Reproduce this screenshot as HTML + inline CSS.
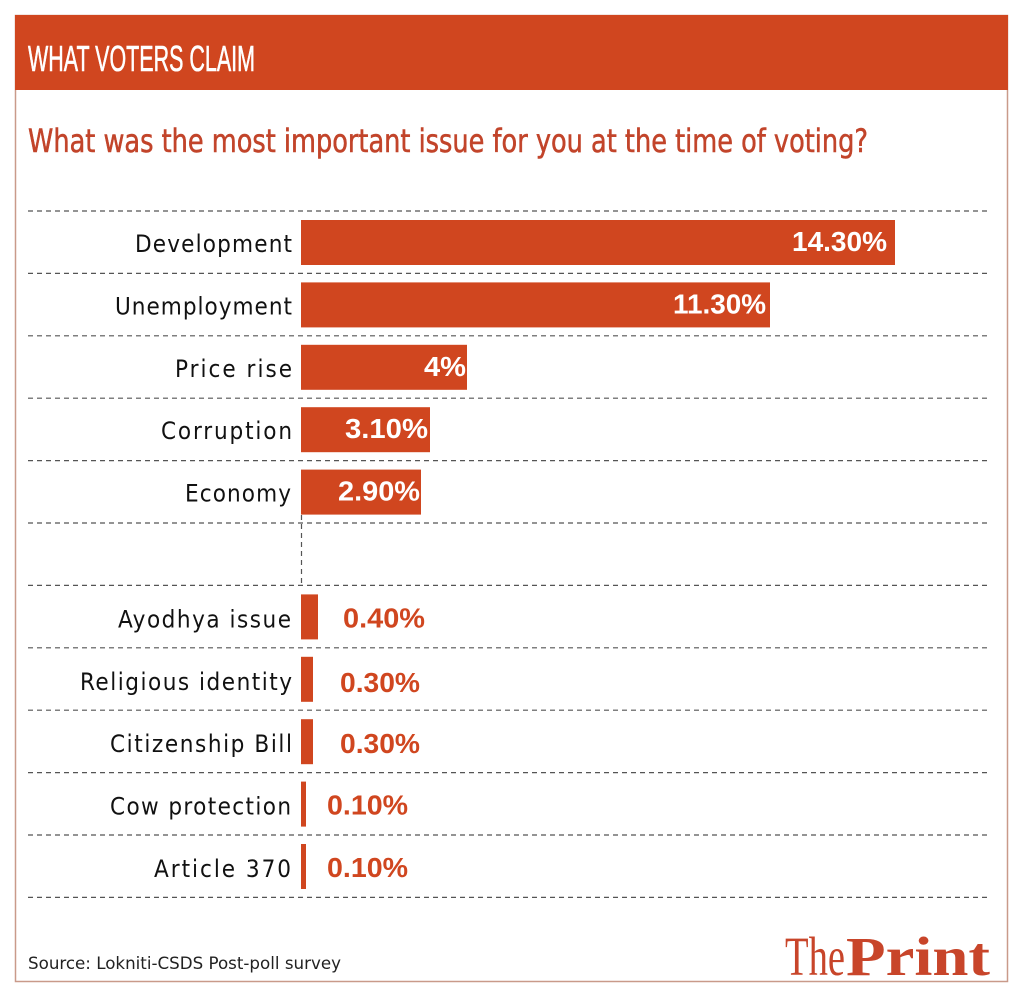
<!DOCTYPE html>
<html><head><meta charset="utf-8"><style>
html,body{margin:0;padding:0;background:#fff;}
svg{display:block;}
.lab{font-family:"DejaVu Sans Condensed","DejaVu Sans","Liberation Sans",sans-serif;font-size:24px;fill:#111;}
.vi{font-family:"Liberation Sans",sans-serif;font-weight:bold;font-size:28px;fill:#fff;}
.vo{font-family:"Liberation Sans",sans-serif;font-weight:bold;font-size:28px;fill:#d0461f;}
.dl{stroke:#555;stroke-width:1.2;stroke-dasharray:5 4;}
</style></head><body>
<svg width="1024" height="1000" viewBox="0 0 1024 1000" xmlns="http://www.w3.org/2000/svg">
<rect x="0" y="0" width="1024" height="1000" fill="#fff"/>
<rect x="15.5" y="15.5" width="992" height="966" fill="#fff" stroke="#c99a8a" stroke-width="1.5"/>
<rect x="15" y="15" width="993" height="75" fill="#d0461f"/>
<text x="28" y="71" font-family="'Liberation Sans Narrow','Liberation Sans',sans-serif" font-size="36" fill="#fff" stroke="#fff" stroke-width="0.6" textLength="227" lengthAdjust="spacingAndGlyphs">WHAT VOTERS CLAIM</text>
<text x="28" y="152" font-family="'DejaVu Sans Condensed','DejaVu Sans',sans-serif" font-size="32" fill="#c2442a" stroke="#c2442a" stroke-width="0.5" textLength="840" lengthAdjust="spacingAndGlyphs">What was the most important issue for you at the time of voting?</text>

<g>
<line class="dl" x1="28" y1="211" x2="990" y2="211"/>
<line class="dl" x1="28" y1="273.4" x2="990" y2="273.4"/>
<line class="dl" x1="28" y1="335.8" x2="990" y2="335.8"/>
<line class="dl" x1="28" y1="398.2" x2="990" y2="398.2"/>
<line class="dl" x1="28" y1="460.6" x2="990" y2="460.6"/>
<line class="dl" x1="28" y1="523" x2="990" y2="523"/>
<line class="dl" x1="28" y1="585.4" x2="990" y2="585.4"/>
<line class="dl" x1="28" y1="647.8" x2="990" y2="647.8"/>
<line class="dl" x1="28" y1="710.2" x2="990" y2="710.2"/>
<line class="dl" x1="28" y1="772.6" x2="990" y2="772.6"/>
<line class="dl" x1="28" y1="835" x2="990" y2="835"/>
<line class="dl" x1="28" y1="897.4" x2="990" y2="897.4"/>
<line class="dl" x1="301.5" y1="515" x2="301.5" y2="585"/>
</g>

<g fill="#d0461f">
<rect x="301" y="220" width="594" height="45"/>
<rect x="301" y="282.4" width="469" height="45"/>
<rect x="301" y="344.8" width="166" height="45"/>
<rect x="301" y="407.2" width="129" height="45"/>
<rect x="301" y="469.6" width="120" height="45"/>
<rect x="301" y="594.4" width="17" height="45"/>
<rect x="301" y="656.8" width="12" height="45"/>
<rect x="301" y="719.2" width="12" height="45"/>
<rect x="301" y="781.6" width="5" height="45"/>
<rect x="301" y="844" width="5" height="45"/>
</g>

<g text-anchor="start">
<text class="lab" x="135" y="252" textLength="157" lengthAdjust="spacing">Development</text>
<text class="lab" x="115" y="314.4" textLength="177" lengthAdjust="spacing">Unemployment</text>
<text class="lab" x="175" y="376.8" textLength="117" lengthAdjust="spacing">Price rise</text>
<text class="lab" x="161" y="439.2" textLength="131" lengthAdjust="spacing">Corruption</text>
<text class="lab" x="185" y="501.6" textLength="106" lengthAdjust="spacing">Economy</text>
<text class="lab" x="118" y="627.4" textLength="173" lengthAdjust="spacing">Ayodhya issue</text>
<text class="lab" x="80" y="689.8" textLength="212" lengthAdjust="spacing">Religious identity</text>
<text class="lab" x="110" y="752.2" textLength="182" lengthAdjust="spacing">Citizenship Bill</text>
<text class="lab" x="110" y="814.6" textLength="181" lengthAdjust="spacing">Cow protection</text>
<text class="lab" x="154" y="877" textLength="137" lengthAdjust="spacing">Article 370</text>
</g>

<g>
<text class="vi" x="792" y="251" textLength="95" lengthAdjust="spacingAndGlyphs">14.30%</text>
<text class="vi" x="673" y="313.4" textLength="93" lengthAdjust="spacingAndGlyphs">11.30%</text>
<text class="vi" x="424" y="375.8" textLength="42" lengthAdjust="spacingAndGlyphs">4%</text>
<text class="vi" x="345" y="438.2" textLength="83" lengthAdjust="spacingAndGlyphs">3.10%</text>
<text class="vi" x="338" y="500.6" textLength="82" lengthAdjust="spacingAndGlyphs">2.90%</text>
<text class="vo" x="343" y="627.4" textLength="82" lengthAdjust="spacingAndGlyphs">0.40%</text>
<text class="vo" x="340" y="691.8" textLength="80" lengthAdjust="spacingAndGlyphs">0.30%</text>
<text class="vo" x="340" y="753.2" textLength="80" lengthAdjust="spacingAndGlyphs">0.30%</text>
<text class="vo" x="327" y="814.6" textLength="81" lengthAdjust="spacingAndGlyphs">0.10%</text>
<text class="vo" x="327" y="877" textLength="81" lengthAdjust="spacingAndGlyphs">0.10%</text>
</g>

<text x="28" y="969" font-family="'DejaVu Sans Condensed','DejaVu Sans',sans-serif" font-size="17" fill="#222" textLength="313" lengthAdjust="spacingAndGlyphs">Source: Lokniti-CSDS Post-poll survey</text>
<text x="785" y="975" font-family="'Liberation Serif',serif" font-size="55" fill="#c8452a" textLength="60" lengthAdjust="spacingAndGlyphs">The</text>
<text x="846" y="975" font-family="'Liberation Serif',serif" font-weight="bold" font-size="55" fill="#c8452a" textLength="144" lengthAdjust="spacingAndGlyphs">Print</text>
</svg>
</body></html>
